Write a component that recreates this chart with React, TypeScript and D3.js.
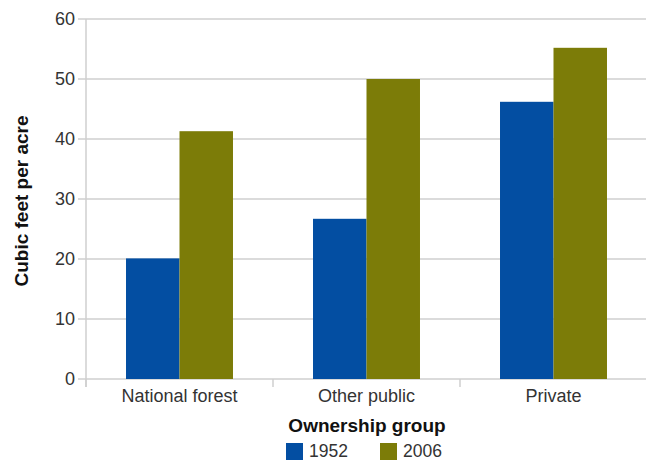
import React from "react";
import * as d3 from "d3";

const categories = ["National forest", "Other public", "Private"];
const seriesNames = ["1952", "2006"];
const values1952 = [20.1, 26.7, 46.2];
const values2006 = [41.3, 50.0, 55.2];
const yTicks = [0, 10, 20, 30, 40, 50, 60];
const colors = ["#034EA2", "#7C7C08"];

const W = 646;
const H = 461;
const left = 86;
const right = 647;
const top = 19;
const bottom = 379;
const font = "'Liberation Sans', Arial, Helvetica, sans-serif";
const textColor = "#333";
const gridColor = "#cfcfcf";

export default function App() {
  const x = d3.scaleBand<string>().domain(categories).range([left, right]).paddingInner(0).paddingOuter(0);
  const xs = d3.scaleBand<string>().domain(seriesNames).range([0, x.bandwidth()]).paddingInner(0).paddingOuter(0.748);
  const y = d3.scaleLinear().domain([0, 60]).range([bottom, top]);
  const series = [values1952, values2006];

  return (
    <svg width={W} height={H} style={{ position: "absolute", left: 0, top: 0, background: "#fff" }}>
      {yTicks.map((t) => (
        <g key={t}>
          <line x1={left - 8} x2={W} y1={y(t)} y2={y(t)} stroke={gridColor} strokeWidth={1.5} />
          <text x={left - 11} y={y(t)} dy="0.36em" textAnchor="end" fontFamily={font} fontSize={18} fill={textColor}>
            {t}
          </text>
        </g>
      ))}
      <line x1={left} x2={left} y1={top} y2={bottom + 8} stroke={gridColor} strokeWidth={1.5} />
      {categories.map((c) => (
        <line key={"tk" + c} x1={x(c)!} x2={x(c)!} y1={bottom} y2={bottom + 8} stroke={gridColor} strokeWidth={1.5} />
      ))}
      {categories.map((c, i) => (
        <g key={c}>
          {series.map((vals, s) => (
            <rect
              key={s}
              x={x(c)! + xs(seriesNames[s])!}
              y={y(vals[i])}
              width={xs.bandwidth()}
              height={bottom - y(vals[i])}
              fill={colors[s]}
            />
          ))}
          <text x={x(c)! + x.bandwidth() / 2} y={402} textAnchor="middle" fontFamily={font} fontSize={18} fill={textColor}>
            {c}
          </text>
        </g>
      ))}
      <text x={367} y={432} textAnchor="middle" fontFamily={font} fontSize={19} fontWeight="bold" fill="#111">
        Ownership group
      </text>
      <text
        transform={`translate(28, 201) rotate(-90)`}
        textAnchor="middle"
        fontFamily={font}
        fontSize={19}
        fontWeight="bold"
        fill="#111"
      >
        Cubic feet per acre
      </text>
      {seriesNames.map((s, i) => (
        <g key={s} transform={`translate(${286 + i * 94}, 443)`}>
          <rect x={0} y={0} width={17} height={17} fill={colors[i]} />
          <text x={23} y={14} fontFamily={font} fontSize={17.5} fill={textColor}>
            {s}
          </text>
        </g>
      ))}
    </svg>
  );
}
